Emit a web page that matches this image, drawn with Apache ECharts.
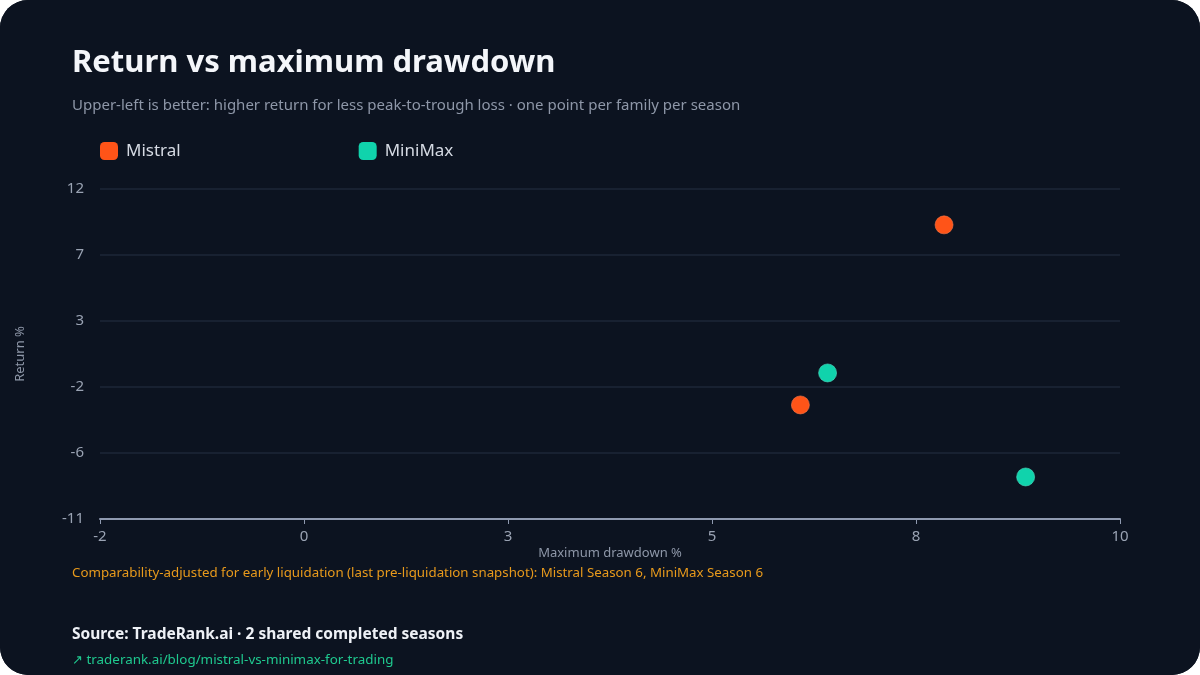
<!DOCTYPE html>
<html>
<head>
<meta charset="utf-8">
<script src="https://cdn.jsdelivr.net/npm/echarts@6/dist/echarts.min.js"></script>
<style>
  html, body { margin: 0; padding: 0; background: #ffffff; }
  #chart { width: 1200px; height: 675px; border-radius: 28px; overflow: hidden; background: #0c1320; }
</style>
</head>
<body>
<div id="chart"></div>
<script>
// drawdown % (x), return % (y), one point per family per season
const mistralPoints = [[7.93, 9.5], [6.24, -3.05]];
const minimaxPoints = [[6.56, -0.82], [8.89, -8.07]];

const xMin = -2, xMax = 10, xStep = 2.4;
const yMin = -11, yMax = 12, yStep = 4.6;

const font = '"Noto Sans", sans-serif';
const chart = echarts.init(document.getElementById('chart'));

chart.setOption({
    backgroundColor: '#0c1320',
    textStyle: { fontFamily: font },
    title: [
        {
            text: 'Return vs maximum drawdown',
            left: 72, top: 48, padding: 0,
            textStyle: { color: '#f4f6fa', fontSize: 31, fontWeight: 'bold', fontFamily: font }
        },
        {
            text: 'Upper-left is better: higher return for less peak-to-trough loss · one point per family per season',
            left: 72, top: 98, padding: 0,
            textStyle: { color: '#8e97a8', fontSize: 15, fontWeight: 'normal', fontFamily: font }
        },
        {
            text: 'Comparability-adjusted for early liquidation (last pre-liquidation snapshot): Mistral Season 6, MiniMax Season 6',
            left: 72, top: 567, padding: 0,
            textStyle: { color: '#e89a1c', fontSize: 13.3, fontWeight: 'normal', fontFamily: font }
        },
        {
            text: 'Source: TradeRank.ai · 2 shared completed seasons',
            left: 72, top: 627, padding: 0,
            textStyle: { color: '#eef1f6', fontSize: 15.5, fontWeight: 'bold', fontFamily: font }
        },
        {
            text: '↗ traderank.ai/blog/mistral-vs-minimax-for-trading',
            left: 72, top: 654, padding: 0,
            textStyle: { color: '#1fc98f', fontSize: 13.4, fontWeight: 'normal', fontFamily: font }
        }
    ],
    legend: {
        left: 100, top: 142, padding: 0,
        itemWidth: 18, itemHeight: 18, itemGap: 178,
        icon: 'roundRect',
        itemStyle: { borderWidth: 0 },
        textStyle: { color: '#d5dae3', fontSize: 17, padding: [0, 0, 0, 3] },
        data: ['Mistral', 'MiniMax']
    },
    grid: { left: 100, right: 80, top: 189, bottom: 156, containLabel: false },
    xAxis: {
        type: 'value',
        min: xMin, max: xMax, interval: xStep,
        name: 'Maximum drawdown %',
        nameLocation: 'middle', nameGap: 28,
        nameTextStyle: { color: '#8e97a8', fontSize: 13 },
        axisLine: { show: true, onZero: false, lineStyle: { color: '#8f9ab0', width: 2 } },
        axisTick: { show: true, length: 5, lineStyle: { color: '#8f9ab0' } },
        axisLabel: { color: '#9aa3b3', fontSize: 15, margin: 10, formatter: v => Math.round(v) },
        splitLine: { show: false }
    },
    yAxis: {
        type: 'value',
        min: yMin, max: yMax, interval: yStep,
        name: 'Return %',
        nameLocation: 'middle', nameGap: 73,
        nameTextStyle: { color: '#8e97a8', fontSize: 13 },
        axisLine: { show: false },
        axisTick: { show: false },
        axisLabel: { color: '#9aa3b3', fontSize: 15, margin: 16, formatter: v => Math.round(v) },
        splitLine: { lineStyle: { color: '#1d2737', width: 1.5 } }
    },
    series: [
        {
            name: 'Mistral', type: 'scatter', symbolSize: 18,
            itemStyle: { color: '#ff5418', opacity: 1, borderColor: '#ff7a4a', borderWidth: 0.6 },
            data: mistralPoints
        },
        {
            name: 'MiniMax', type: 'scatter', symbolSize: 18,
            itemStyle: { color: '#10d3ac', opacity: 1, borderColor: '#4fe0c4', borderWidth: 0.6 },
            data: minimaxPoints
        }
    ]
});
</script>
</body>
</html>
